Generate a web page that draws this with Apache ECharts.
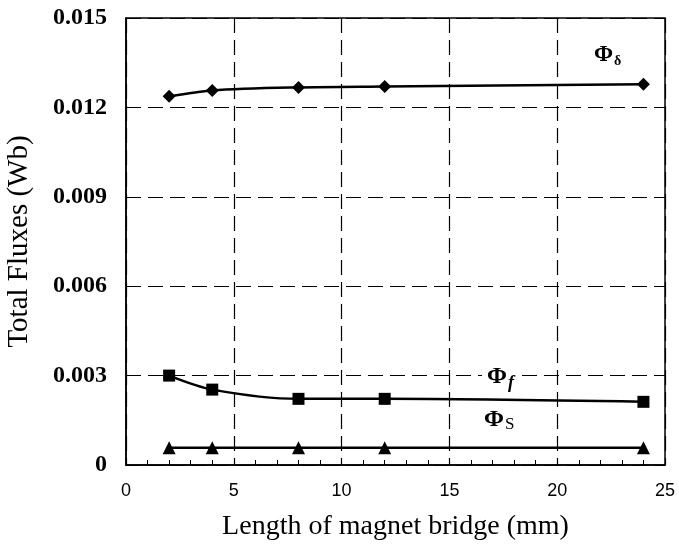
<!DOCTYPE html>
<html>
<head>
<meta charset="utf-8">
<script src="https://cdn.jsdelivr.net/npm/echarts@6/dist/echarts.min.js"></script>
<style>
  html, body { margin: 0; padding: 0; background: #fff; }
  #main { width: 679px; height: 549px; }
</style>
</head>
<body>
<div id="main"></div>
<script>
// bridge lengths (mm)
var bridgeLen = [2, 4, 8, 12, 24];
// total fluxes (Wb)
var fluxDelta = [0.01237, 0.01257, 0.01267, 0.0127, 0.01278];
var fluxF = [0.0030, 0.00253, 0.00222, 0.00222, 0.00212];
var fluxS = [0.00058, 0.00058, 0.00058, 0.00058, 0.00058];
var yTicks = ['0', '0.003', '0.006', '0.009', '0.012', '0.015'];

function pairs(ys) {
  return bridgeLen.map(function (x, i) { return [x, ys[i]]; });
}

var myChart = echarts.init(document.getElementById('main'));

function makeSeries(name, ys, symbol, size) {
  return {
    name: name,
    type: 'line',
    smooth: 0.3,
    data: pairs(ys),
    symbol: symbol,
    symbolSize: size,
    itemStyle: { color: '#000' },
    lineStyle: { color: '#000', width: 2.5 },
    animation: false
  };
}

var serif = 'Liberation Serif';

myChart.setOption({
  backgroundColor: '#fff',
  animation: false,
  grid: {
    left: 126, right: 14, top: 18, bottom: 84,
    outerBoundsMode: 'none',
    show: true, borderColor: '#000', borderWidth: 1.5
  },
  xAxis: {
    type: 'value',
    min: 0, max: 25, interval: 5,
    name: 'Length of magnet bridge (mm)',
    nameLocation: 'middle',
    nameGap: 48,
    nameTextStyle: { fontFamily: serif, fontSize: 28, color: '#000' },
    axisLine: { show: true, lineStyle: { color: '#000', width: 1.5 } },
    axisTick: { inside: true, length: 7, lineStyle: { color: '#000' } },
    minorTick: { show: true, splitNumber: 5, length: 5, lineStyle: { color: '#000' } },
    axisLabel: { fontFamily: 'Liberation Sans Narrow, Liberation Sans', fontSize: 18, color: '#000', margin: 17 },
    splitLine: { show: true, lineStyle: { color: '#000', type: [15, 7], width: 1.2 } }
  },
  yAxis: {
    type: 'value',
    min: 0, max: 0.015, interval: 0.003,
    name: 'Total Fluxes (Wb)',
    nameLocation: 'middle',
    nameGap: 92,
    nameTextStyle: { fontFamily: serif, fontSize: 29, color: '#000' },
    axisLine: { show: true, lineStyle: { color: '#000', width: 1.5 } },
    axisTick: { inside: true, length: 6, lineStyle: { color: '#000' } },
    axisLabel: {
      fontFamily: serif, fontSize: 24, fontWeight: 'bold', color: '#000', margin: 19,
      formatter: function (v) { return yTicks[Math.round(v / 0.003)]; }
    },
    splitLine: { show: true, lineStyle: { color: '#000', type: [15, 7], width: 1.2 } }
  },
  graphic: [
    { type: 'text', left: 594, top: 44, z: 100,
      style: { text: '{p|Φ}{s|δ}', rich: {
        p: { fontFamily: serif, fontSize: 23, fontWeight: 'bold', fill: '#000' },
        s: { fontFamily: serif, fontSize: 14, fontWeight: 'bold', fill: '#000', padding: [12, 0, 0, 1] } } } },
    { type: 'text', left: 482, top: 362, z: 100,
      style: { text: '{p|Φ}{s|f}', backgroundColor: '#fff', padding: [0, 5], rich: {
        p: { fontFamily: serif, fontSize: 24, fontWeight: 'bold', fill: '#000' },
        s: { fontFamily: serif, fontSize: 18, fontStyle: 'italic', fontWeight: 'bold', fill: '#000', padding: [12, 0, 0, 1] } } } },
    { type: 'text', left: 484, top: 408, z: 100,
      style: { text: '{p|Φ}{s|S}', rich: {
        p: { fontFamily: serif, fontSize: 24, fontWeight: 'bold', fill: '#000' },
        s: { fontFamily: serif, fontSize: 17, fill: '#000', padding: [10, 0, 0, 1] } } } }
  ],
  series: [
    makeSeries('delta', fluxDelta, 'diamond', 13),
    makeSeries('f', fluxF, 'rect', 12),
    makeSeries('s', fluxS, 'triangle', 13)
  ]
});
window.addEventListener('resize', function () { myChart.resize(); });
</script>
</body>
</html>
